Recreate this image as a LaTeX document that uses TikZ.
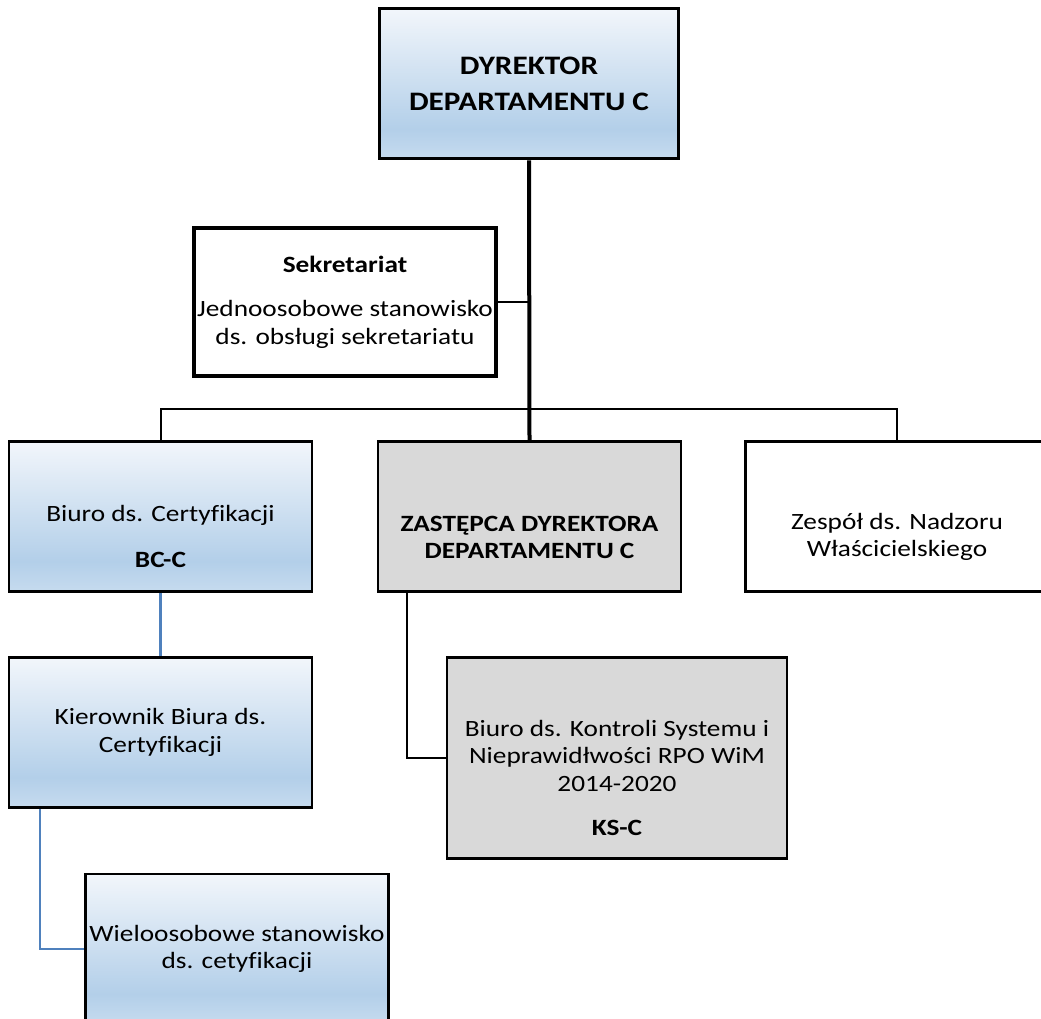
\documentclass[tikz,border=0pt]{standalone}
\usepackage{fontspec}
\setmainfont{Carlito}[FakeStretch=1.17, Ligatures=NoCommon]
\usetikzlibrary{positioning}

\definecolor{boxtop}{HTML}{F2F6FB}
\definecolor{boxmid}{HTML}{B3CFE9}
\definecolor{boxbot}{HTML}{C6DBEF}
\definecolor{boxgray}{HTML}{D9D9D9}
\definecolor{linkblue}{HTML}{4F81BD}

\pgfdeclareverticalshading{boxshade}{100bp}{color(0bp)=(boxbot); color(25bp)=(boxbot); color(35bp)=(boxmid); color(75bp)=(boxtop); color(100bp)=(boxtop)}

\newcommand{\lowered}{\mbox{}\\[22pt]}

\tikzset{
  box/.style={draw, line width=1.9pt, minimum width=227pt, minimum height=112.5pt, inner sep=2pt, align=center, font=\fontsize{17.5}{20.5}\selectfont},
  bluebox/.style={box, shading=boxshade},
  graybox/.style={box, fill=boxgray},
  link/.style={line width=1.5pt},
  trunk/.style={line width=3pt},
  bluelink/.style={line width=1.6pt, draw=linkblue}
}

\begin{document}
\begin{tikzpicture}[x=0.75pt, y=-0.75pt]
\useasboundingbox (0,0) rectangle (1041,1019);

\node[bluebox, line width=2.25pt, minimum width=224pt, font=\fontsize{20}{27.5}\selectfont\bfseries] (dyr) at (529,84) {DYREKTOR\\DEPARTAMENTU C};
\node[box, line width=3pt, minimum height=111pt] (sek) at (345,302) {\textbf{Sekretariat}\\[13pt]Jednoosobowe stanowisko\\ds. obsługi sekretariatu};

\node[bluebox] (bc) at (160.5,516.5) {\lowered Biuro ds. Certyfikacji\\[14pt]\textbf{BC-C}};
\node[graybox] (zast) at (529.5,516.5) {\lowered\textbf{ZASTĘPCA DYREKTORA}\\\textbf{DEPARTAMENTU C}};
\node[box] (zesp) at (897,516.5) {\lowered Zespół ds. Nadzoru\\Właścicielskiego};

\node[bluebox] (kier) at (160.5,732.5) {Kierownik Biura ds.\\Certyfikacji};
\node[bluebox] (wiel) at (237,949) {Wieloosobowe stanowisko\\ds. cetyfikacji};
\node[graybox, minimum width=255pt, minimum height=151pt] (ks) at (617,758) {\lowered Biuro ds. Kontroli Systemu i\\Nieprawidłwości RPO WiM\\2014-2020\\[13pt]\textbf{KS-C}};

\coordinate (split) at (529,409);

\draw[trunk] (dyr.south) -- (zast.north);
\draw[link] (sek.east) -- (sek.east -| dyr.south);
\draw[link] (bc.north) |- (split) -| (zesp.north);

\draw[bluelink] (bc.south) -- (kier.north);
\draw[bluelink] ([xshift=24pt]kier.south west) |- (wiel.west);
\draw[link] ([xshift=22.5pt]zast.south west) |- (ks.west);

\end{tikzpicture}
\end{document}
